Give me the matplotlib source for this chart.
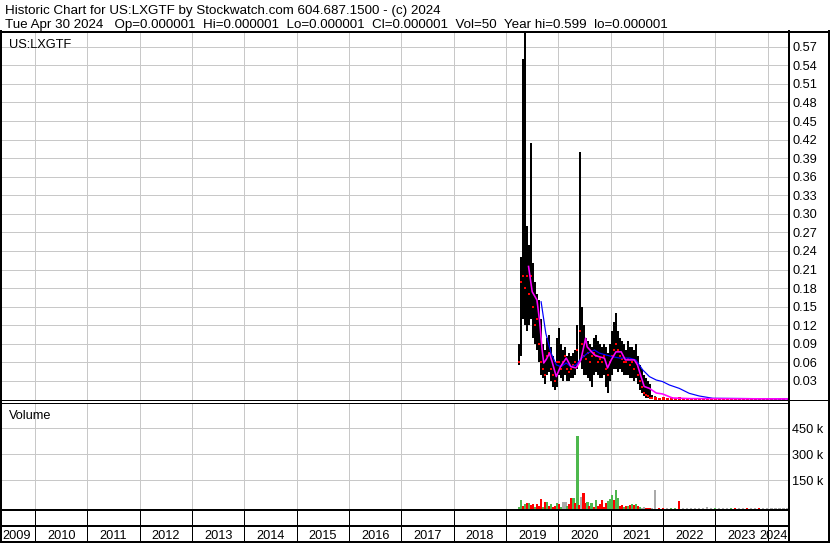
import matplotlib.pyplot as plt
import numpy as np
from matplotlib.lines import Line2D

W, H = 830, 543
plt.rcParams['font.family'] = ['Liberation Sans', 'DejaVu Sans']

# ---- data ----
# two-week bars while the stock was active
active_start = 2019.25
hi = [0.09, 0.23, 0.55, 0.599, 0.28, 0.25, 0.415, 0.22, 0.19, 0.17,
      0.16, 0.13, 0.09, 0.08, 0.10, 0.105, 0.085, 0.07, 0.06, 0.10,
      0.115, 0.09, 0.08, 0.085, 0.07, 0.075, 0.07, 0.075, 0.08, 0.12,
      0.40, 0.15, 0.12, 0.10, 0.095, 0.09, 0.085, 0.10, 0.105, 0.095,
      0.09, 0.085, 0.09, 0.085, 0.075, 0.09, 0.11, 0.125, 0.14, 0.11,
      0.10, 0.095, 0.09, 0.08, 0.095, 0.085, 0.085, 0.08, 0.09, 0.07,
      0.055, 0.05, 0.04, 0.035, 0.03, 0.025, 0.008]
lo = [0.055, 0.07, 0.13, 0.12, 0.11, 0.12, 0.13, 0.10, 0.09, 0.08,
      0.06, 0.04, 0.035, 0.025, 0.04, 0.045, 0.03, 0.02, 0.015, 0.02,
      0.04, 0.035, 0.03, 0.04, 0.03, 0.03, 0.035, 0.035, 0.04, 0.05,
      0.06, 0.05, 0.04, 0.04, 0.035, 0.03, 0.02, 0.04, 0.045, 0.04,
      0.035, 0.035, 0.04, 0.02, 0.01, 0.03, 0.04, 0.05, 0.05, 0.045,
      0.05, 0.045, 0.04, 0.04, 0.04, 0.035, 0.035, 0.03, 0.035, 0.025,
      0.015, 0.01, 0.005, 0.003, 0.002, 0.002, 0.001]
cl = [0.06, 0.19, 0.20, 0.18, 0.20, 0.17, 0.20, 0.15, 0.12, 0.13,
      0.09, 0.06, 0.05, 0.04, 0.07, 0.075, 0.05, 0.04, 0.03, 0.06,
      0.06, 0.05, 0.06, 0.07, 0.05, 0.045, 0.05, 0.055, 0.06, 0.08,
      0.11, 0.09, 0.07, 0.065, 0.075, 0.06, 0.07, 0.075, 0.07, 0.06,
      0.065, 0.06, 0.07, 0.05, 0.04, 0.06, 0.07, 0.08, 0.09, 0.08,
      0.07, 0.065, 0.06, 0.06, 0.065, 0.055, 0.06, 0.05, 0.06, 0.04,
      0.03, 0.02, 0.01, 0.008, 0.005, 0.003, 0.002]
vol = [10, 52, 17, 29, 35, 33, 23, 29, 13, 27,
       15, 58, 13, 42, 39, 17, 27, 10, 17, 33,
       27, 12, 39, 42, 20, 27, 62, 62, 33, 424,
       23, 71, 91, 37, 39, 15, 35, 12, 55, 20,
       30, 52, 12, 35, 45, 60, 80, 55, 110, 65,
       20, 25, 12, 20, 15, 25, 30, 22, 28, 15,
       10, 8, 12, 8, 5, 5, 5]
vol_dir = ['g', 'g', 'r', 'g', 'r', 'g', 'r', 'r', 'g', 'r',
           'r', 'r', 'g', 'r', 'g', 'r', 'g', 'r', 'r', 'g',
           'r', 'g', 'n', 'n', 'g', 'r', 'r', 'g', 'r', 'g',
           'r', 'n', 'r', 'r', 'g', 'r', 'g', 'r', 'g', 'r',
           'r', 'r', 'r', 'r', 'g', 'g', 'g', 'r', 'g', 'g',
           'r', 'r', 'g', 'r', 'g', 'r', 'g', 'r', 'g', 'r',
           'g', 'n', 'n', 'r', 'r', 'r', 'n']

# four-week bars for the quiet tail
tail_start = 2021.84
tail_hi = [0.006, 0.003, 0.003, 0.002, 0.003, 0.002, 0.003, 0.002, 0.002, 0.002,
           0.002, 0.002, 0.002, 0.002, 0.002, 0.002, 0.002, 0.002, 0.002, 0.002,
           0.002, 0.002, 0.002, 0.002, 0.002, 0.002, 0.002, 0.002, 0.002, 0.002,
           0.002, 0.002, 0.002, 0.002]
tail_lo = [0.001] * 34
tail_cl = [0.002, 0.0015, 0.002, 0.0015, 0.002, 0.0015, 0.002, 0.0015, 0.0015, 0.0015,
           0.0015, 0.0015, 0.0015, 0.0015, 0.0015, 0.0015, 0.0015, 0.0015, 0.0015, 0.0015,
           0.0015, 0.0015, 0.0015, 0.0015, 0.0015, 0.0015, 0.0015, 0.0015, 0.0015, 0.0015,
           0.0015, 0.0015, 0.0015, 0.0015]
tail_vol = [110, 5, 4, 3, 6, 8, 45, 6, 5, 4,
            4, 5, 5, 12, 5, 7, 4, 4, 5, 6,
            4, 4, 5, 4, 4, 5, 6, 4, 6, 4,
            4, 5, 4, 4]
tail_dir = ['n', 'r', 'r', 'n', 'g', 'g', 'r', 'n', 'n', 'n',
            'n', 'n', 'n', 'n', 'n', 'g', 'n', 'n', 'n', 'g',
            'r', 'n', 'n', 'r', 'n', 'n', 'r', 'n', 'n', 'n',
            'n', 'n', 'n', 'n']

# moving averages
ma_fast_t = [2019.43, 2019.50, 2019.59, 2019.64, 2019.69, 2019.72, 2019.77, 2019.83,
             2019.88, 2019.96, 2020.04, 2020.15, 2020.24, 2020.34, 2020.43, 2020.52,
             2020.55, 2020.69, 2020.78, 2020.88, 2020.94, 2021.01, 2021.10, 2021.20,
             2021.28, 2021.36, 2021.45, 2021.51, 2021.58, 2021.64, 2021.74, 2021.87,
             2021.99, 2022.18, 2022.50, 2024.38]
ma_fast_v = [0.215, 0.174, 0.161, 0.128, 0.08, 0.059, 0.065, 0.075,
             0.061, 0.037, 0.053, 0.067, 0.053, 0.051, 0.064, 0.099,
             0.085, 0.072, 0.069, 0.067, 0.051, 0.064, 0.077, 0.077,
             0.064, 0.064, 0.064, 0.056, 0.037, 0.021, 0.018, 0.0105,
             0.009, 0.0025, 0.0015, 0.001]
ma_slow_t = [2019.67, 2019.76, 2019.86, 2019.96, 2020.05, 2020.15, 2020.24, 2020.34,
             2020.43, 2020.56, 2020.69, 2020.78, 2020.91, 2021.04, 2021.17, 2021.36,
             2021.48, 2021.61, 2021.74, 2021.87, 2021.99, 2022.12, 2022.31, 2022.50,
             2022.69, 2022.95, 2024.38]
ma_slow_v = [0.158, 0.107, 0.075, 0.056, 0.053, 0.059, 0.053, 0.056,
             0.066, 0.075, 0.080, 0.075, 0.072, 0.069, 0.067, 0.067,
             0.064, 0.048, 0.037, 0.0315, 0.029, 0.0235, 0.018, 0.010,
             0.0057, 0.002, 0.001]

price_ticks = [0.03, 0.06, 0.09, 0.12, 0.15, 0.18, 0.21, 0.24, 0.27, 0.30,
               0.33, 0.36, 0.39, 0.42, 0.45, 0.48, 0.51, 0.54, 0.57]
vol_ticks = [150000, 300000, 450000]
vol_labels = ['150 k', '300 k', '450 k']
years = list(range(2009, 2025))

header1 = 'Historic Chart for US:LXGTF by Stockwatch.com 604.687.1500 - (c) 2024'
header2 = ('Tue Apr 30 2024   Op=0.000001  Hi=0.000001  Lo=0.000001  '
           'Cl=0.000001  Vol=50  Year hi=0.599  lo=0.000001')

# ---- layout helpers (pixel coords) ----
def rect(x0, y0, x1, y1):
    return [x0 / W, 1 - y1 / H, (x1 - x0) / W, (y1 - y0) / H]

def fline(fig, x0, y0, x1, y1, lw=2):
    fig.add_artist(Line2D([x0 / W, x1 / W], [1 - y0 / H, 1 - y1 / H],
                          color='black', lw=lw * 0.72, transform=fig.transFigure,
                          antialiased=False))

PX = 0.72
XL = (2009.369, 2024.401)
colmap = {'g': '#4db84d', 'r': '#ff0000', 'n': '#aaaaaa'}
grid = '#c8c8c8'

fig = plt.figure(figsize=(W / 100, H / 100), dpi=100)

t_act = active_start + np.arange(len(hi)) * 2 / 52
t_tail = tail_start + np.arange(len(tail_hi)) * 4 / 52

# price panel
ax = fig.add_axes(rect(2, 33, 788.7, 400))
ax.set_xlim(*XL)
ax.set_ylim(-0.0008, 0.5923)
ax.set_xticks(years[1:])
ax.set_yticks(price_ticks)
ax.set_yticklabels([f'{v:.2f}' for v in price_ticks])
ax.yaxis.tick_right()
ax.tick_params(axis='y', length=0, pad=2.5, labelsize=9.2)
ax.tick_params(axis='x', length=0, labelbottom=False)
ax.grid(True, color=grid, lw=1 * PX)
ax.set_axisbelow(True)
for s in ax.spines.values():
    s.set_visible(False)
ax.vlines(t_act, lo, hi, color='black', lw=2 * PX)
ax.vlines(t_tail, tail_lo, tail_hi, color='black', lw=1.5 * PX)
ax.plot(t_act, cl, ls='none', marker='s', ms=2.2 * PX, color='#ff0000', mew=0)
ax.plot(t_tail, tail_cl, ls='none', marker='s', ms=3 * PX, color='#ff0000', mew=0)
ax.plot(ma_slow_t, ma_slow_v, color='#0000ff', lw=1.2 * PX)
ax.plot(ma_fast_t, ma_fast_v, color='#ff00ff', lw=1.6 * PX)
ax.text(0.009, 0.985, 'US:LXGTF', transform=ax.transAxes, ha='left', va='top', fontsize=9.2)

# volume panel
av = fig.add_axes(rect(2, 403, 788.7, 509))
av.set_xlim(*XL)
vmin = -18600
av.set_ylim(vmin, 597700)
av.set_xticks(years[1:])
av.set_yticks(vol_ticks)
av.set_yticklabels(vol_labels)
av.yaxis.tick_right()
av.tick_params(axis='y', length=0, pad=2.5, labelsize=9.2)
av.tick_params(axis='x', length=0, labelbottom=False)
av.grid(True, color=grid, lw=1 * PX)
av.set_axisbelow(True)
for s in av.spines.values():
    s.set_visible(False)
av.bar(t_act, np.array(vol) * 1000, bottom=vmin, width=0.042,
       color=[colmap[c] for c in vol_dir], linewidth=0)
av.bar(t_tail, np.array(tail_vol) * 1000, bottom=vmin, width=0.042,
       color=[colmap[c] for c in tail_dir], linewidth=0)
av.text(0.009, 0.93, 'Volume', transform=av.transAxes, ha='left', va='top', fontsize=9.2)

# date rows
ad = fig.add_axes(rect(2, 509, 788.7, 542))
ad.set_xlim(*XL)
ad.set_ylim(0, 1)
ad.axis('off')
ad.vlines(years[1:], 0, 1, color='black', lw=1 * PX)
for y in years:
    if y == years[0]:
        ad.text(XL[0] + 0.01, 0.08, str(y), ha='left', va='baseline', fontsize=9.2)
    elif y == years[-1]:
        ad.text(XL[1] - 0.01, 0.08, str(y), ha='right', va='baseline', fontsize=9.2)
    else:
        ad.text(y + 0.5, 0.08, str(y), ha='center', va='baseline', fontsize=9.2)

# frame lines
fline(fig, 0, 31.5, W, 31.5, 2)
fline(fig, 1, 31, 1, H, 2)
fline(fig, W - 1, 31, W - 1, H, 2)
fline(fig, 0, H - 1.5, W, H - 1.5, 2)
fline(fig, 788.7, 31, 788.7, H - 1, 2)
fline(fig, 0, 400, W, 400, 1)
fline(fig, 0, 403, 788.7, 403, 1)
fline(fig, 0, 509.5, 788.7, 509.5, 2)
fline(fig, 0, 526, 788.7, 526, 2)

fig.text(5 / W, 1 - 14 / H, header1, ha='left', va='baseline', fontsize=9.6)
fig.text(5 / W, 1 - 28 / H, header2, ha='left', va='baseline', fontsize=9.6)

fig.savefig('out.png', dpi=100)
